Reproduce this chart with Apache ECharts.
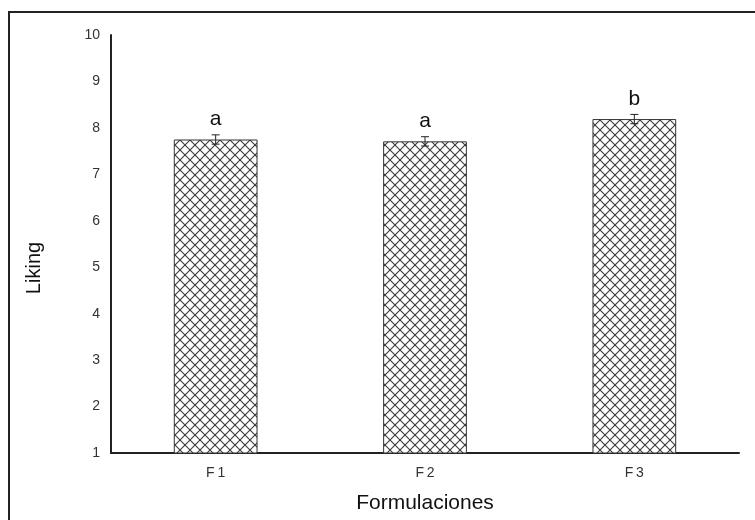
<!DOCTYPE html>
<html><head><meta charset="utf-8">
<script src="https://cdn.jsdelivr.net/npm/echarts@6/dist/echarts.min.js"></script>
<style>html,body{margin:0;padding:0;background:#fff}#c{width:755px;height:520px}</style>
</head><body><div id="c"></div>
<script>
const categories = ['F1', 'F2', 'F3'];
const means = [7.75, 7.71, 8.19];
const errors = [0.1, 0.1, 0.1];
const letters = ['a', 'a', 'b'];
const yTicks = [1, 2, 3, 4, 5, 6, 7, 8, 9, 10];
const yTitle = 'Liking';
const xTitle = 'Formulaciones';

function hatch() {
  const P = 10;
  const c = document.createElement('canvas');
  c.width = P; c.height = P;
  const g = c.getContext('2d');
  g.fillStyle = '#fff'; g.fillRect(0, 0, P, P);
  g.strokeStyle = '#3a3a3a'; g.lineWidth = 1.1;
  for (const o of [-P, 0, P]) {
    g.beginPath(); g.moveTo(o, 0); g.lineTo(o + P, P); g.stroke();
    g.beginPath(); g.moveTo(o, P); g.lineTo(o + P, 0); g.stroke();
  }
  return c;
}

const chart = echarts.init(document.getElementById('c'), null, {renderer: 'canvas'});
chart.setOption({
  animation: false,
  backgroundColor: '#fff',
  graphic: [{
    type: 'rect', shape: {x: 9, y: 12, width: 800, height: 600},
    style: {fill: 'none', stroke: '#222', lineWidth: 2}, silent: true, z: 100
  }, {
    type: 'text', x: 34, y: 268, rotation: Math.PI / 2, silent: true,
    style: {text: yTitle, align: 'center', verticalAlign: 'middle', fill: '#111', fontSize: 20, fontFamily: 'Liberation Sans'}
  }],
  grid: {left: 111, right: 16, top: 35, bottom: 67, containLabel: false, outerBoundsMode: 'none'},
  xAxis: {
    type: 'category', data: categories,
    axisLine: {lineStyle: {color: '#222', width: 2}},
    axisTick: {show: false},
    axisLabel: {color: '#333', fontSize: 14, fontFamily: 'Liberation Sans', margin: 13,
      formatter: v => v.split('').join('\u2009')},
    name: xTitle, nameLocation: 'middle', nameGap: 40,
    nameTextStyle: {color: '#111', fontSize: 21, fontFamily: 'Liberation Sans'}
  },
  yAxis: {
    type: 'value', min: yTicks[0], max: yTicks[yTicks.length - 1], interval: 1,
    axisLine: {show: true, lineStyle: {color: '#222', width: 2}},
    axisTick: {show: false},
    splitLine: {show: false},
    axisLabel: {color: '#333', fontSize: 14, fontFamily: 'Liberation Sans', margin: 11}
  },
  series: [{
    type: 'bar', data: means, barWidth: '40%',
    itemStyle: {color: {image: hatch(), repeat: 'repeat'}, borderColor: '#333', borderWidth: 1}
  }, {
    type: 'custom',
    data: means.map((m, i) => [i, m - errors[i], m + errors[i], letters[i]]),
    renderItem: function (params, api) {
      const x = api.value(0);
      const lo = api.coord([x, api.value(1)]);
      const hi = api.coord([x, api.value(2)]);
      const w = 4;
      const st = {stroke: '#222', lineWidth: 1};
      return {
        type: 'group', children: [
          {type: 'line', shape: {x1: lo[0], y1: lo[1], x2: hi[0], y2: hi[1]}, style: st},
          {type: 'line', shape: {x1: lo[0] - w, y1: lo[1], x2: lo[0] + w, y2: lo[1]}, style: st},
          {type: 'line', shape: {x1: hi[0] - w, y1: hi[1], x2: hi[0] + w, y2: hi[1]}, style: st},
          {type: 'text', style: {text: api.value(3), x: hi[0], y: hi[1] - 5, align: 'center', verticalAlign: 'bottom',
            fill: '#111', fontSize: 21, fontFamily: 'Liberation Sans'}}
        ]
      };
    },
    z: 10
  }]
});
</script></body></html>
